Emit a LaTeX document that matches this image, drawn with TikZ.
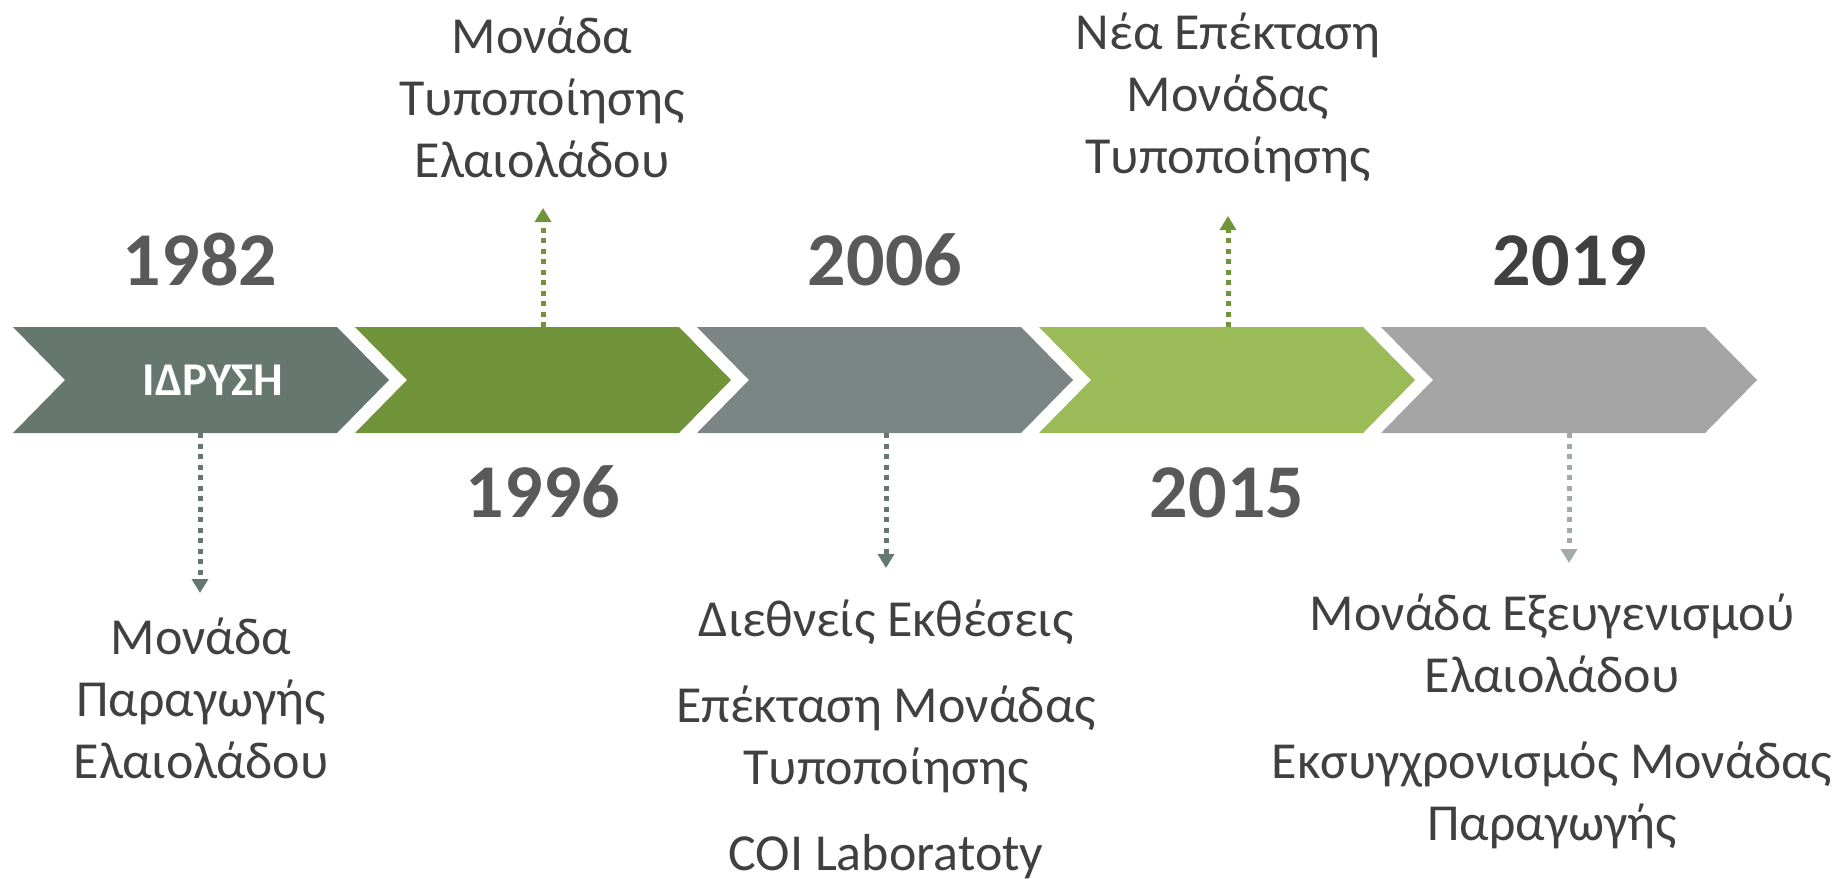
\documentclass[tikz,border=0pt]{standalone}
\usepackage{fontspec}
\setmainfont{Carlito}
\usetikzlibrary{arrows.meta,positioning}
\definecolor{chevA}{HTML}{66776F}
\definecolor{chevB}{HTML}{71943A}
\definecolor{chevC}{HTML}{7A8584}
\definecolor{chevD}{HTML}{9BBB59}
\definecolor{chevE}{HTML}{A5A5A5}
\definecolor{dotE}{HTML}{A3ABA8}
\definecolor{txtdark}{HTML}{404040}
\definecolor{txtyear}{HTML}{595959}

\begin{document}
\begin{tikzpicture}[x=0.5pt,y=-0.5pt,
  year/.style={font=\fontsize{38}{46}\selectfont\bfseries, text=txtyear, anchor=base, inner sep=0pt},
  event/.style={font=\fontsize{26}{31}\selectfont, text=txtdark, align=center, anchor=base, inner sep=0pt},
  dotarrow/.style={line width=2.5pt, dash pattern=on 2.5pt off 2.75pt, -{Triangle[width=8pt,length=7pt]}}]
  \useasboundingbox (0,0) rectangle (1839,878);
  % Chevrons
  \foreach \col [count=\i from 0] in {chevA,chevB,chevC,chevD,chevE}
    \fill[\col] ({13+342*\i},327) -- ++(324,0) -- ++(52,53) -- ++(-52,53)
      -- ++(-324,0) -- ++(52,-53) -- cycle;
  \node[font=\fontsize{23.5}{28}\selectfont\bfseries, text=white, anchor=base, inner sep=0pt] (found) at (213,395) {ΙΔΡΥΣΗ};
  % Years
  \node[year] (y1982) at (200,285) {1982};
  \node[year] (y1996) at (543,517) {1996};
  \node[year] (y2006) at (885,285) {2006};
  \node[year] (y2015) at (1227,517) {2015};
  \node[year, text=txtdark] (y2019) at (1570,285) {2019};
  % Events (base = last line)
  \node[event] (ev1) at (201,778) {Μονάδα\\Παραγωγής\\Ελαιολάδου};
  \node[event] (ev2) at (542,177) {Μονάδα\\Τυποποίησης\\Ελαιολάδου};
  \node[event] (ev3) at (886,870) {Διεθνείς Εκθέσεις\\[12pt]Επέκταση Μονάδας\\Τυποποίησης\\[12pt]COI Laboratoty};
  \node[event] (ev4) at (1228,173) {Νέα Επέκταση\\Μονάδας\\Τυποποίησης};
  \node[event] (ev5) at (1552,840) {Μονάδα Εξευγενισμού\\Ελαιολάδου\\[12pt]Εκσυγχρονισμός Μονάδας\\Παραγωγής};
  % Dotted pointers
  \coordinate (ch1) at (200,433);
  \coordinate (ch2) at (543,327);
  \coordinate (ch3) at (886,433);
  \coordinate (ch4) at (1228,327);
  \coordinate (ch5) at (1569,433);
  \coordinate (e1) at (200,593);
  \coordinate (e2) at (543,208);
  \coordinate (e3) at (886,568);
  \coordinate (e4) at (1228,216);
  \coordinate (e5) at (1569,563);
  \draw[dotarrow, chevA] (ch1) -- (e1);
  \draw[dotarrow, chevB] (ch2) -- (e2);
  \draw[dotarrow, chevA] (ch3) -- (e3);
  \draw[dotarrow, chevB] (ch4) -- (e4);
  \draw[dotarrow, dotE] (ch5) -- (e5);
\end{tikzpicture}
\end{document}
